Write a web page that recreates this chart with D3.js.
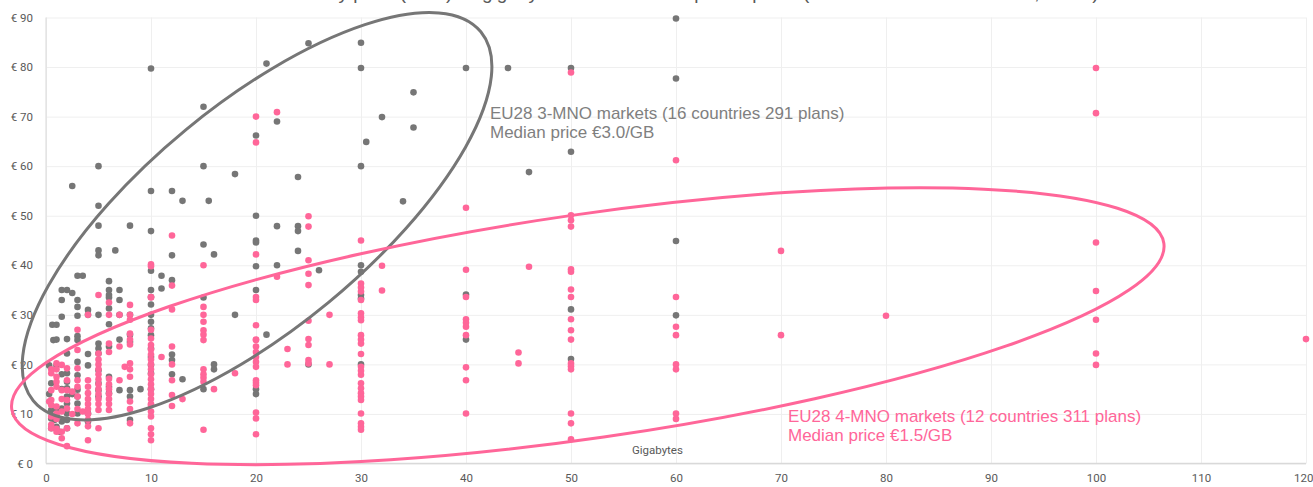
<!DOCTYPE html>
<html>
<head>
<meta charset="utf-8">
<script src="https://d3js.org/d3.v7.min.js"></script>
<style>
  body { margin: 0; background: #fff; }
  .axis path { display: none; }
  .axis line { stroke: #efefef; }
  .axis text { font-family: Roboto, "Liberation Sans", sans-serif; font-size: 11.5px; fill: #595959; }
  .note { font-family: "Liberation Sans", Arial, sans-serif; font-size: 17px; }
</style>
</head>
<body>
<script>
// GB per month vs monthly price (EUR)
const xTicks = [0, 10, 20, 30, 40, 50, 60, 70, 80, 90, 100, 110, 120];
const yTicks = [0, 10, 20, 30, 40, 50, 60, 70, 80, 90];

// EU28 3-MNO markets
const plans3 = [
  [0.3,14],[0.3,19.8],[0.5,7.1],[0.5,9.1],[0.5,10.8],[0.5,16.2],[0.6,28],[0.7,24.9],[0.8,8.8],
  [1,28],[1,25],[1,19.8],[1,11],[1,9.5],[1,7.4],[1.3,6.4],[1.5,35],[1.5,33],[1.5,29.6],[1.5,18],
  [1.5,15],[1.5,11.1],[1.5,8.5],[2,35],[2,25.1],[2,22.2],[2,18.2],[2,16.5],[2,15.2],[2,13.5],
  [2,12.1],[2,10.1],[2,8.8],[2,7.1],[2.5,56],[2.5,34.4],[2.5,14],[3,37.9],[3,33],[3,31.6],
  [3,29.8],[3,25.7],[3,24.9],[3,20.5],[3,17.8],[3,14.9],[3,13.5],[3,12.1],[3,10.1],[3.5,37.9],
  [4,31],[4,30],[4,22.1],[4,19.8],[4,10.1],[4,8.5],[5,60],[5,52],[5,48],[5,43],[5,42],[5,30],
  [5,24.2],[5,23.2],[5,22.2],[5,18.8],[5,16.2],[5,14.8],[5,13.5],[6,36.8],[6,35],[6,34],[6,33.5],
  [6,31.3],[6,28.1],[6,23.6],[6,17.5],[6,15.5],[6,14.2],[6.6,43],[7,35],[7,33],[7,30],[7,25],
  [7,14.8],[8,48],[8,30],[8,26],[8,24.5],[8,14.8],[8,13.5],[8,8.8],[9,15],
  [10,79.7],[10,55],[10,46.9],[10,38.9],[10,35],[10,33.6],[10,32.1],[10,30],[10,28.6],[10,27.3],
  [10,25.9],[10,23.2],[10,21.5],[10,19.9],[10,18.2],[10,15],[11,37.9],[11,35.3],
  [12,55],[12,42],[12,37],[12,22],[12,20.9],[12,18],[13,53],[13,17],
  [15,72],[15,60],[15,44.2],[15,33.5],[15,15],[15.5,53],[16,42.2],[16,20],[16,19],[18,58.4],[18,30],
  [20,66.2],[20,50],[20,45],[20,44.6],[20,39.8],[20,35],[20,15],[20,14],[21,80.7],[21,26],
  [22,69],[22,47.9],[22,40],[24,57.8],[24,47.9],[24,46.9],[24,42.9],[25,84.8],[25,20],[26,39],
  [30,84.9],[30,79.8],[30,60],[30,40],[30,38.7],[30,34],[30,33.3],[30,20],[30.5,64.9],[32,69.9],
  [34,52.9],[35,74.9],[35,67.8],[40,79.8],[40,34.1],[40,25],[44,79.8],[46,58.8],
  [50,79.8],[50,62.9],[50,31.1],[50,21.1],[60,89.8],[60,77.7],[60,44.9],[60,29.9]
];

// EU28 4-MNO markets
const plans4 = [
  [0.3,12.5],[0.5,19],[0.5,18.2],[0.5,14.8],[0.5,12.8],[0.5,11.8],[0.5,9.5],[0.5,7.8],[0.5,7.1],
  [1,20.2],[1,19],[1,17.5],[1,16.5],[1,15.5],[1,11.5],[1,10.1],[1,9],[1,7],[1,6.4],[1.5,19.9],
  [1.5,14.8],[1.5,13],[1.5,10.5],[1.5,6.4],[1.5,5.1],[2,19.2],[2,16.8],[2,14.8],[2,12.8],[2,11.1],
  [2,7.1],[2,3.5],[2.5,14.5],[2.5,10],[3,27],[3,22.9],[3,19.2],[3,16.8],[3,15.5],[3,13.5],[3,11],
  [3,8.1],[3.5,10.5],[4,30],[4,16.8],[4,15.5],[4,14.2],[4,13],[4,12],[4,11],[4,10],[4,8.8],[4,7.5],
  [4,4.7],[5,34],[5,22.2],[5,21],[5,20],[5,19],[5,18],[5,17],[5,16],[5,15],[5,14],[5,13],[5,12],
  [5,10.8],[5,7.1],[6,32.5],[6,30],[6,24.2],[6,22.5],[6,17.1],[6,16],[6,15],[6,14],[6,13],[6,12],
  [6,10.8],[7,30],[7,23.6],[7,16.8],[7.5,19.5],[8,32],[8,30],[8,29],[8,26.2],[8,25],[8,24],
  [8,20.2],[8,19],[8,17.5],[8,12.5],[8,11],[8,8.1],
  [10,40.2],[10,39.8],[10,33.6],[10,33.5],[10,27],[10,25.2],[10,23.9],[10,23],[10,22],[10,21],
  [10,20],[10,19],[10,18],[10,17],[10,16],[10,15],[10,14],[10,13],[10,12],[10,11.8],[10,10.5],
  [10,9.5],[10,7.1],[10,5.9],[10,4.7],[11,21.5],
  [12,46],[12,35.9],[12,31.1],[12,23.6],[12,20],[12,16.8],[12,13.8],[12,11.6],[13,13],
  [15,40],[15,31.6],[15,30],[15,28.6],[15,26.9],[15,26],[15,24.9],[15,19],[15,18],[15,17.3],
  [15,16.5],[15,6.8],[16,15],[18,18.2],
  [20,70],[20,64.8],[20,42.2],[20,33.6],[20,33],[20,27.9],[20,25],[20,24.9],[20,23.6],[20,22.5],
  [20,21.5],[20,20.5],[20,19.5],[20,16.8],[20,16.3],[20,15.8],[20,10.3],[20,9.1],[20,5.9],
  [22,70.9],[22,37.7],[23,23.1],[23,20],
  [25,49.9],[25,47.8],[25,41],[25,38.3],[25,36],[25,28.8],[25,25.1],[25,23.9],[25,20.9],[25,20.2],
  [27,30],[27,20],
  [30,45],[30,36.3],[30,35.5],[30,34.7],[30,33],[30,30.3],[30,29.5],[30,28.9],[30,25.9],[30,25],
  [30,24.2],[30,22.1],[30,19.5],[30,18.7],[30,17.9],[30,16.2],[30,15.2],[30,14.2],[30,13.5],
  [30,12.8],[30,10.1],[30,8.1],[30,7.4],[30,6.8],[32,39.9],[32,34.9],
  [40,51.6],[40,39.1],[40,33.6],[40,29.1],[40,28.4],[40,27.6],[40,25.9],[40,19.4],[40,16.8],[40,10.1],
  [45,22.4],[45,20.2],[46,39.7],
  [50,78.9],[50,50.1],[50,49.1],[50,47.8],[50,39.2],[50,38.7],[50,35.1],[50,33.6],[50,29.1],[50,26.9],
  [50,25],[50,20.2],[50,19.6],[50,19],[50,10.1],[50,8.1],[50,4.9],
  [60,61.2],[60,33.6],[60,27.6],[60,25.9],[60,20],[60,19],[60,10.1],[60,9],
  [70,42.9],[70,25.9],[80,29.8],
  [100,79.8],[100,70.7],[100,44.6],[100,34.8],[100,29],[100,22.2],[100,19.9],[120,25.1]
];

const grey = "#767676", pink = "#ff6699";

const W = 1313, H = 487;
const mLeft = 46, mRight = 1306, mTop = 17.5, mBottom = 463.5;

const svg = d3.select("body").append("svg")
  .attr("width", W)
  .attr("height", H);

const x = d3.scaleLinear().domain([0, 120]).range([mLeft, mRight]);
const y = d3.scaleLinear().domain([0, 90]).range([mBottom, mTop]);

// title, only its lower edge shows at the top of the picture
svg.append("text")
  .attr("x", 690)
  .attr("y", -1)
  .attr("text-anchor", "middle")
  .style("font-family", "Liberation Sans, Arial, sans-serif")
  .style("font-size", "19px")
  .style("fill", "#595959")
  .text("Monthly price (EUR) vs gigabyte volume of smartphone plans (3-MNO vs 4-MNO markets, EU28)");

// grid + labels
let xg = svg.append("g")
  .attr("class", "axis")
  .attr("transform", "translate(0," + mBottom + ")")
  .call(d3.axisBottom(x).tickValues(xTicks).tickSize(-(mBottom - mTop)).tickPadding(10));
xg.selectAll("text").attr("dy", "0.71em");
xg.selectAll(".tick:last-of-type text").attr("text-anchor", "end").attr("dx", 7);

svg.append("g")
  .attr("class", "axis")
  .attr("transform", "translate(" + mLeft + ",0)")
  .call(d3.axisLeft(y).tickValues(yTicks).tickSize(-(mRight - mLeft)).tickPadding(13)
    .tickFormat(d => "€ " + d));

// axis lines
svg.append("line")
  .attr("x1", mLeft).attr("x2", mLeft)
  .attr("y1", mTop).attr("y2", mBottom)
  .style("stroke", "#d9d9d9");
svg.append("line")
  .attr("x1", mLeft).attr("x2", mRight)
  .attr("y1", mBottom).attr("y2", mBottom)
  .style("stroke", "#d9d9d9")
  .style("stroke-width", 1.5);

svg.append("text")
  .attr("x", x(55.8))
  .attr("y", 454)
  .style("font-family", "Roboto, sans-serif")
  .style("font-size", "11.5px")
  .style("fill", "#595959")
  .text("Gigabytes");

// dots
svg.append("g").selectAll("circle")
  .data(plans3)
  .join("circle")
  .attr("cx", d => x(d[0]))
  .attr("cy", d => y(d[1]))
  .attr("r", 3.3)
  .style("fill", grey);

svg.append("g").selectAll("circle")
  .data(plans4)
  .join("circle")
  .attr("cx", d => x(d[0]))
  .attr("cy", d => y(d[1]))
  .attr("r", 3.3)
  .style("fill", pink);

// highlight ellipses
svg.append("ellipse")
  .attr("transform", "translate(" + x(20.1) + "," + y(49.9) + ") rotate(-39.5)")
  .attr("rx", 290).attr("ry", 112)
  .style("fill", "none")
  .style("stroke", grey)
  .style("stroke-width", 3);

svg.append("ellipse")
  .attr("transform", "translate(" + x(51.6) + "," + y(27.7) + ") rotate(-8.2)")
  .attr("rx", 582).attr("ry", 112)
  .style("fill", "none")
  .style("stroke", pink)
  .style("stroke-width", 3);

// notes
let n3 = svg.append("text").attr("class", "note").style("fill", "#7f7f7f");
n3.append("tspan").attr("x", 490).attr("y", 119).text("EU28 3-MNO markets (16 countries 291 plans)");
n3.append("tspan").attr("x", 490).attr("y", 138).text("Median price €3.0/GB");

let n4 = svg.append("text").attr("class", "note").style("fill", pink);
n4.append("tspan").attr("x", 788).attr("y", 422).text("EU28 4-MNO markets (12 countries 311 plans)");
n4.append("tspan").attr("x", 788).attr("y", 441).text("Median price €1.5/GB");
</script>
</body>
</html>
